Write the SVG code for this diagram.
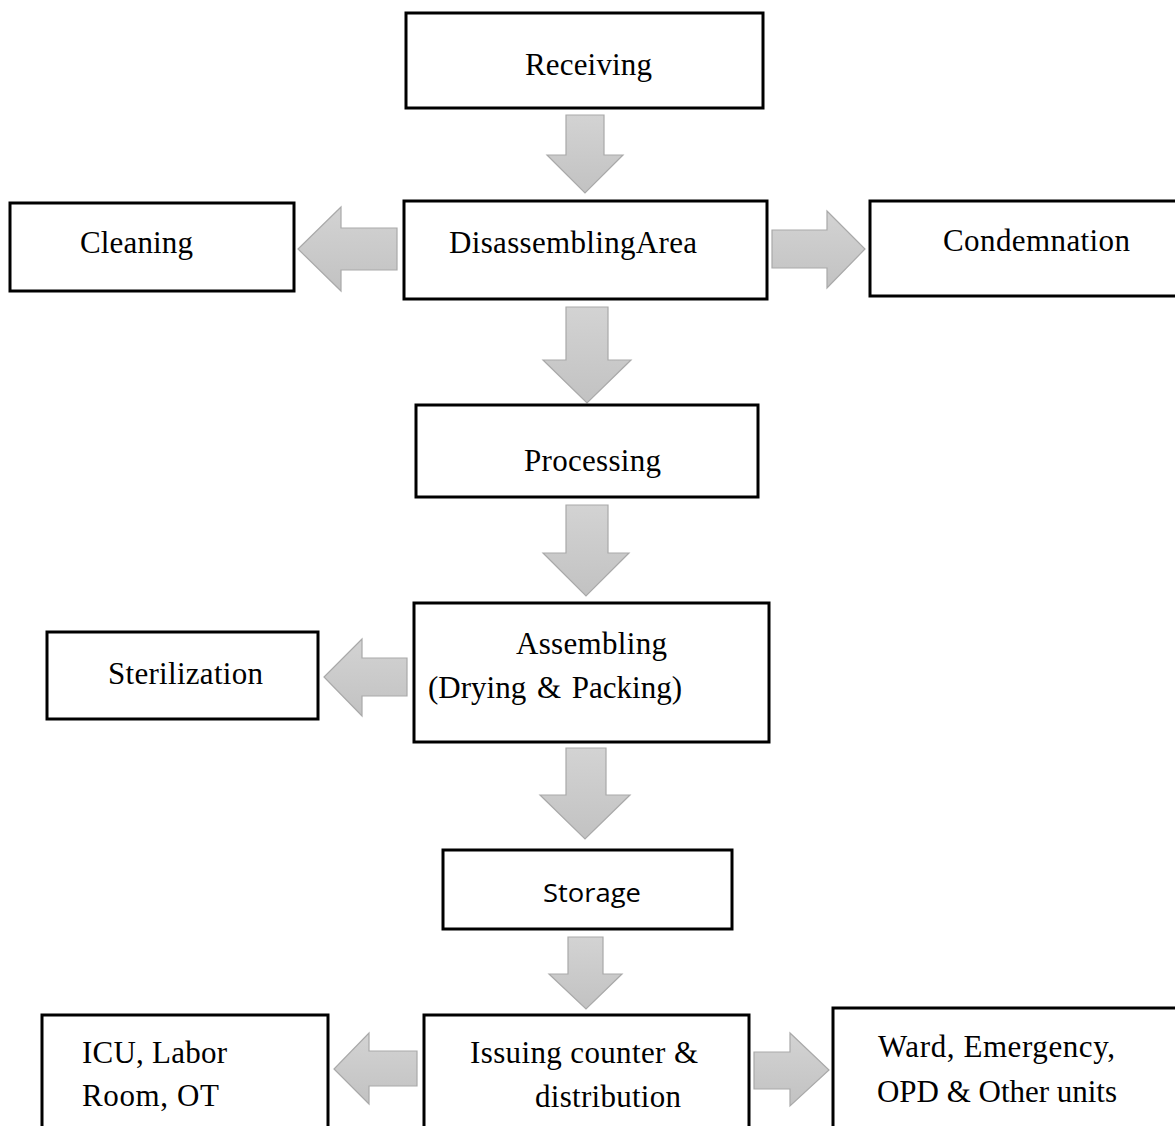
<svg xmlns="http://www.w3.org/2000/svg" width="1175" height="1126" viewBox="0 0 1175 1126">
  <defs>
    <linearGradient id="arrowFill" x1="0" y1="0" x2="0" y2="1">
      <stop offset="0" stop-color="#d3d3d3"/>
      <stop offset="1" stop-color="#c2c2c2"/>
    </linearGradient>
  </defs>
  <style>
    .box { fill: #ffffff; stroke: #000000; stroke-width: 3; }
    .lbl { font-family: "Liberation Serif", "Times New Roman", serif; font-size: 31px; fill: #000000; }
    .sans { font-family: "Open Sans", "Liberation Sans", sans-serif; font-size: 26px; fill: #000000; }
    .arrow { fill: url(#arrowFill); stroke: #a9a9a9; stroke-width: 1.2; stroke-linejoin: miter; }
  </style>
  <rect x="0" y="0" width="1175" height="1126" fill="#ffffff"/>

  <g id="connectors">
    <!-- Receiving -> Disassembling -->
    <polygon class="arrow" points="566,115 604,115 604,155 623,155 585,193 547,155 566,155"/>
    <!-- Disassembling -> Cleaning -->
    <polygon class="arrow" points="397,228 397,270 341,270 341,291 298,249 341,207 341,228"/>
    <!-- Disassembling -> Condemnation -->
    <polygon class="arrow" points="772,230 827,230 827,211 865,249 827,288 827,268 772,268"/>
    <!-- Disassembling -> Processing -->
    <polygon class="arrow" points="566,307 608,307 608,360 631,360 587,403 543,360 566,360"/>
    <!-- Processing -> Assembling -->
    <polygon class="arrow" points="566,505 608,505 608,553 629,553 586,596 543,553 566,553"/>
    <!-- Assembling -> Sterilization -->
    <polygon class="arrow" points="407,658 407,696 362,696 362,716 324,677 362,639 362,658"/>
    <!-- Assembling -> Storage -->
    <polygon class="arrow" points="566,748 606,748 606,795 630,795 585,839 540,795 566,795"/>
    <!-- Storage -> Issuing -->
    <polygon class="arrow" points="568,937 603,937 603,974 622,974 586,1009 549,974 568,974"/>
    <!-- Issuing -> ICU -->
    <polygon class="arrow" points="417,1051 417,1086 369,1086 369,1104 334,1069 369,1033 369,1051"/>
    <!-- Issuing -> Ward -->
    <polygon class="arrow" points="754,1052 790,1052 790,1033 829,1070 790,1106 790,1089 754,1089"/>
  </g>

  <g id="receiving">
    <rect class="box" x="406" y="13" width="357" height="95"/>
    <text class="lbl" x="525" y="75" textLength="127" lengthAdjust="spacing">Receiving</text>
  </g>

  <g id="cleaning">
    <rect class="box" x="10" y="203" width="284" height="88"/>
    <text class="lbl" x="80" y="253" textLength="113" lengthAdjust="spacing">Cleaning</text>
  </g>

  <g id="disassembling">
    <rect class="box" x="404" y="201" width="363" height="98"/>
    <text class="lbl" x="449" y="253" textLength="248" lengthAdjust="spacing">DisassemblingArea</text>
  </g>

  <g id="condemnation">
    <rect class="box" x="870" y="201" width="310" height="95"/>
    <text class="lbl" x="943" y="251" textLength="187" lengthAdjust="spacing">Condemnation</text>
  </g>

  <g id="processing">
    <rect class="box" x="416" y="405" width="342" height="92"/>
    <text class="lbl" x="524" y="471" textLength="137" lengthAdjust="spacing">Processing</text>
  </g>

  <g id="sterilization">
    <rect class="box" x="47" y="632" width="271" height="87"/>
    <text class="lbl" x="108" y="684" textLength="155" lengthAdjust="spacing">Sterilization</text>
  </g>

  <g id="assembling">
    <rect class="box" x="414" y="603" width="355" height="139"/>
    <text class="lbl" x="516" y="654" textLength="151" lengthAdjust="spacing">Assembling</text>
    <text class="lbl" x="428" y="698" font-size="32" word-spacing="3">(Drying &amp; Packing)</text>
  </g>

  <g id="storage">
    <rect class="box" x="443" y="850" width="289" height="79"/>
    <text class="sans" x="543" y="902" textLength="98" lengthAdjust="spacingAndGlyphs">Storage</text>
  </g>

  <g id="icu">
    <rect class="box" x="42" y="1015" width="286" height="120"/>
    <text class="lbl" x="82" y="1063" textLength="145" lengthAdjust="spacing">ICU, Labor</text>
    <text class="lbl" x="82" y="1106" textLength="137" lengthAdjust="spacing">Room, OT</text>
  </g>

  <g id="issuing">
    <rect class="box" x="424" y="1015" width="325" height="120"/>
    <text class="lbl" x="470" y="1063" textLength="228" lengthAdjust="spacing">Issuing counter &amp;</text>
    <text class="lbl" x="535" y="1107" textLength="146" lengthAdjust="spacing">distribution</text>
  </g>

  <g id="ward">
    <rect class="box" x="833" y="1008" width="350" height="130"/>
    <text class="lbl" x="878" y="1057" textLength="237" lengthAdjust="spacing">Ward, Emergency,</text>
    <text class="lbl" x="877" y="1102" textLength="240" lengthAdjust="spacing">OPD &amp; Other units</text>
  </g>
</svg>
